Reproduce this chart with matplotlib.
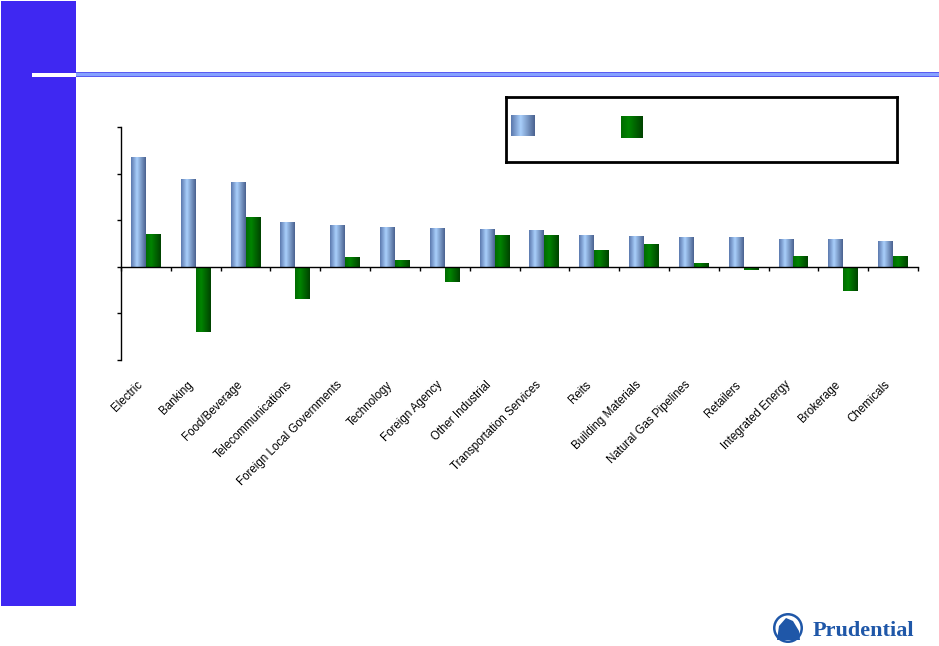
import numpy as np
import matplotlib
matplotlib.use("Agg")
import matplotlib.pyplot as plt
from matplotlib.colors import LinearSegmentedColormap
from matplotlib.patches import Rectangle, Circle, Polygon
from matplotlib import transforms

W, H = 939, 646

SECTORS = [
    "Electric", "Banking", "Food/Beverage", "Telecommunications",
    "Foreign Local Governments", "Technology", "Foreign Agency",
    "Other Industrial", "Transportation Services", "Reits",
    "Building Materials", "Natural Gas Pipelines", "Retailers",
    "Integrated Energy", "Brokerage", "Chemicals",
]
SERIES_A = [2.36, 1.89, 1.83, 0.97, 0.89, 0.86, 0.84, 0.82,
            0.80, 0.69, 0.67, 0.65, 0.63, 0.59, 0.59, 0.56]
SERIES_B = [0.71, -1.40, 1.06, -0.69, 0.20, 0.14, -0.33, 0.69,
            0.69, 0.35, 0.48, 0.09, -0.07, 0.24, -0.52, 0.24]
Y_TICKS = [-2, -1, 0, 1, 2, 3]

SIDEBAR = "#3f28f2"
LOGO_BLUE = "#1f57a8"
BLUE_CMAP = LinearSegmentedColormap.from_list(
    "blue_bar", [(0, "#5b78ad"), (0.4, "#a9cffb"), (1, "#4a6290")])
GREEN_CMAP = LinearSegmentedColormap.from_list(
    "green_bar", [(0, "#006c00"), (0.35, "#008400"), (1, "#004200")])


def fx(x):
    return x / W


def fy(y):
    return 1 - y / H


def shade_bars(ax, bars, cmap):
    grad = np.linspace(0, 1, 64).reshape(1, -1)
    for bar in bars:
        x0, y0 = bar.get_x(), bar.get_y()
        x1, y1 = x0 + bar.get_width(), y0 + bar.get_height()
        im = ax.imshow(grad, cmap=cmap, aspect="auto",
                       extent=[x0, x1, min(y0, y1), max(y0, y1)],
                       zorder=bar.get_zorder() + 0.1)
        im.set_clip_path(bar)


fig = plt.figure(figsize=(W / 100, H / 100), dpi=100)
fig.patch.set_facecolor("white")

# page decoration
fig.add_artist(Rectangle((fx(1), fy(606)), fx(75), 605 / H,
                         transform=fig.transFigure, color=SIDEBAR, lw=0))
fig.add_artist(Rectangle((fx(76), fy(77)), fx(863), 5 / H,
                         transform=fig.transFigure, color="#5a5cf2", lw=0))
fig.add_artist(Rectangle((fx(76), fy(76)), fx(863), 3 / H,
                         transform=fig.transFigure, color="#86a2ff", lw=0))
fig.add_artist(Rectangle((fx(32), fy(77)), fx(44), 4 / H,
                         transform=fig.transFigure, color="white", lw=0))

# chart
ax = fig.add_axes([fx(121), fy(360), fx(797), 233 / H])
x = np.arange(len(SECTORS))
bw = 0.30
bars_a = ax.bar(x - bw / 2, SERIES_A, bw, color="#8fb6ec", lw=0, zorder=2)
bars_b = ax.bar(x + bw / 2, SERIES_B, bw, color="#007000", lw=0, zorder=2)
shade_bars(ax, bars_a, BLUE_CMAP)
shade_bars(ax, bars_b, GREEN_CMAP)

ax.set_xlim(-0.5, len(SECTORS) - 0.5)
ax.set_ylim(Y_TICKS[0], Y_TICKS[-1])
ax.set_yticks(Y_TICKS)
ax.set_yticklabels([])
ax.set_xticks(np.arange(len(SECTORS) + 1) - 0.5)
ax.set_xticklabels([])
ax.spines["top"].set_visible(False)
ax.spines["right"].set_visible(False)
ax.spines["bottom"].set_position(("data", 0))
ax.spines["bottom"].set_zorder(3)
for side in ["left", "bottom"]:
    ax.spines[side].set_linewidth(1.0)
ax.tick_params(axis="both", direction="out", length=3, width=1)
ax.set_facecolor("none")

label_tf = transforms.offset_copy(
    transforms.blended_transform_factory(ax.transData, ax.transAxes),
    fig=fig, x=-9, y=-19, units="dots")
for i, name in enumerate(SECTORS):
    ax.text(i, 0, name, transform=label_tf, rotation=45,
            rotation_mode="anchor", ha="right", va="top",
            fontsize=8.3, family="Liberation Sans", color="black")

# legend box
lg = fig.add_axes([fx(506), fy(162), fx(391), 65 / H])
lg.set_xticks([])
lg.set_yticks([])
for sp in lg.spines.values():
    sp.set_linewidth(2)
grad = np.linspace(0, 1, 64).reshape(1, -1)
lg.imshow(grad, cmap=BLUE_CMAP, aspect="auto", extent=[5, 28, 39, 18])
lg.imshow(grad, cmap=GREEN_CMAP, aspect="auto", extent=[115, 137, 41, 19])
lg.set_xlim(0, 391)
lg.set_ylim(65, 0)

# logo (pixel coordinates, y from top)
logo = fig.add_axes([0, 0, 1, 1], zorder=5)
logo.set_xlim(0, W)
logo.set_ylim(H, 0)
logo.axis("off")
logo.add_patch(Circle((788, 628), 15, facecolor=LOGO_BLUE, lw=0))
logo.add_patch(Circle((788, 628), 12.5, facecolor="white", lw=0))
logo.add_patch(Polygon([(777, 640), (779, 626), (786, 618), (793, 621),
                        (799, 631), (800, 640)],
                       closed=True, facecolor=LOGO_BLUE, lw=0))
logo.text(813, 631, "Prudential", fontsize=16, fontweight="bold",
          family="Liberation Serif", color=LOGO_BLUE,
          va="center", ha="left")

fig.savefig("out.png", dpi=100, facecolor="white")
